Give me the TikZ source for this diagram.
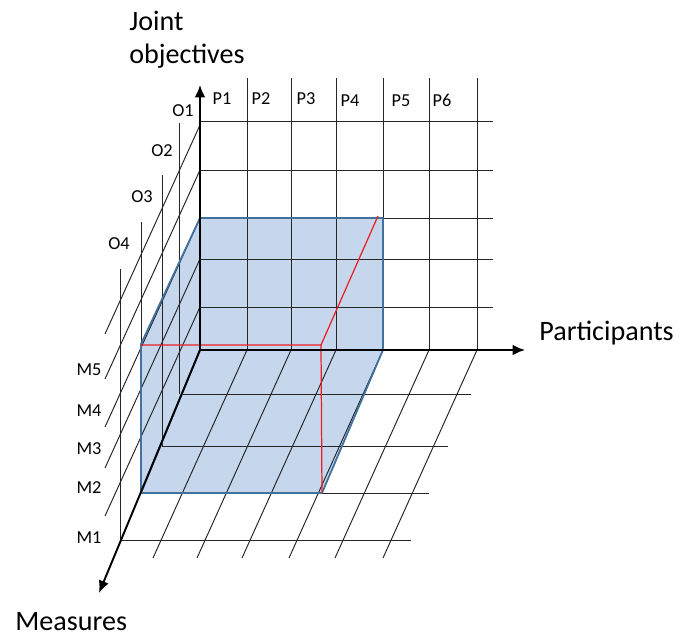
\documentclass[tikz,border=0pt]{standalone}
\usepackage{fontspec}
\setmainfont{Carlito}
\usetikzlibrary{arrows.meta}
\definecolor{cubefill}{RGB}{198,214,236}
\definecolor{cubeedge}{RGB}{65,113,156}
\definecolor{edgered}{RGB}{236,32,32}

\begin{document}
\begin{tikzpicture}[
        gridline/.style={black!85, line width=0.55pt},
        axisarrow/.style={black, line width=1.1pt, -{Latex[length=7pt,width=6pt]}},
        edgeline/.style={cubeedge, line width=1pt, line join=round},
        redline/.style={edgered, line width=0.7pt},
        labelsmall/.style={font=\fontsize{10.4}{12}\selectfont, inner sep=0pt},
        labelbig/.style={font=\fontsize{16}{18.8}\selectfont, inner sep=0pt}]
    \useasboundingbox (-4,-5.72) rectangle (9.62,7);
    % Shaded box: back, left and floor faces.
        \fill[cubefill] (0,0) rectangle (3.66,2.64);
        \fill[cubefill] (0,0) -- (0,2.64) -- (-1.18,0.12) -- (-1.18,-2.86) -- cycle;
        \fill[cubefill] (0,0) -- (3.66,0) -- (2.44,-2.86) -- (-1.18,-2.86) -- cycle;
    % Back wall grid.
        \foreach \x in {0.94,1.82,2.72,3.66,4.58,5.54}
            \draw[gridline] (\x,0) -- (\x,5.44);
        \foreach \y in {0.86,1.82,2.64,3.6,4.58}
            \draw[gridline] (0,\y) -- (5.86,\y);
    % Left wall grid.
        \foreach \y in {4.5,3.6,2.64,1.82,0.86}
            \draw[gridline] (0,\y) -- ++(-1.9,-4.18);
        \foreach \x/\y in {-0.42/-0.88,-0.76/-1.92,-1.18/-2.86,-1.6/-3.8}
            \draw[gridline] (\x,\y) -- ++(0,5.42);
    % Floor grid.
        \foreach \x/\y/\e in {-0.36/-0.88/5.42,-0.76/-1.92/4.96,-1.16/-2.86/4.58,-1.6/-3.8/4.22}
            \draw[gridline] (\x,\y) -- (\e,\y);
        \foreach \x in {0.94,1.82,2.72,3.66,4.58,5.54}
            \draw[gridline] (\x,0) -- ++(-1.88,-4.16);
    % Box outline.
        \draw[edgeline] (0,0) rectangle (3.66,2.64);
        \draw[edgeline] (0,2.64) -- (-1.18,0.12) -- (-1.18,-2.86);
        \draw[edgeline] (3.66,0) -- (2.44,-2.86) -- (-1.18,-2.86) -- (0,0);
    % Red edges of the selected block.
        \coordinate (corner) at (2.42,0.1);
        \coordinate (topend) at (3.56,2.68);
        \coordinate (leftend) at (-1.18,0.1);
        \coordinate (lowend) at (2.44,-2.86);
        \draw[redline] (leftend) -- (corner) -- (topend);
        \draw[redline] (corner) -- (lowend);
    % Axes.
        \coordinate (origin) at (0,0);
        \coordinate (upend) at (0,5.3);
        \coordinate (rightend) at (6.5,0);
        \coordinate (downend) at (-2.02,-4.86);
        \draw[axisarrow] (origin) -- (upend);
        \draw[axisarrow] (origin) -- (rightend);
        \draw[axisarrow] (origin) -- (downend);
    % Below nodes are the axis titles.
        \node[labelbig, anchor=base west] (joint) at (-1.42,6.4) {Joint};
        \node[labelbig, anchor=base west] (objectives) at (-1.42,5.74) {objectives};
        \node[labelbig, anchor=base west] (participants) at (6.78,0.2) {Participants};
        \node[labelbig, anchor=base west] (measures) at (-3.7,-5.6) {Measures};
    % Participant labels.
        \node[labelsmall] (p1) at (0.44,5.02) {P1};
        \node[labelsmall] (p2) at (1.22,5.02) {P2};
        \node[labelsmall] (p3) at (2.12,5.02) {P3};
        \node[labelsmall] (p4) at (3.0,4.99) {P4};
        \node[labelsmall] (p5) at (4.02,4.99) {P5};
        \node[labelsmall] (p6) at (4.84,4.99) {P6};
    % Objective labels.
        \node[labelsmall] (o1) at (-0.34,4.78) {O1};
        \node[labelsmall] (o2) at (-0.76,3.98) {O2};
        \node[labelsmall] (o3) at (-1.16,3.06) {O3};
        \node[labelsmall] (o4) at (-1.62,2.12) {O4};
    % Measure labels.
        \node[labelsmall] (m5) at (-2.22,-0.4) {M5};
        \node[labelsmall] (m4) at (-2.22,-1.22) {M4};
        \node[labelsmall] (m3) at (-2.22,-1.98) {M3};
        \node[labelsmall] (m2) at (-2.22,-2.76) {M2};
        \node[labelsmall] (m1) at (-2.22,-3.76) {M1};
\end{tikzpicture}
\end{document}
